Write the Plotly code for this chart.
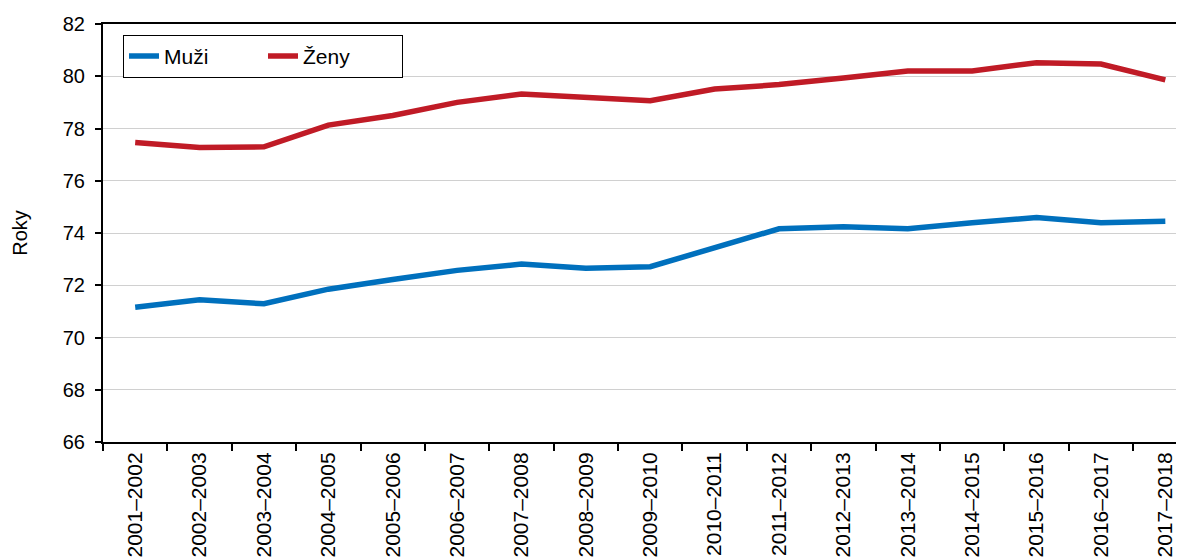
import plotly.graph_objects as go

categories = ["2001–2002", "2002–2003", "2003–2004", "2004–2005", "2005–2006",
              "2006–2007", "2007–2008", "2008–2009", "2009–2010", "2010–2011",
              "2011–2012", "2012–2013", "2013–2014", "2014–2015", "2015–2016",
              "2016–2017", "2017–2018"]
muzi = [71.16, 71.44, 71.29, 71.85, 72.22, 72.57, 72.81, 72.65, 72.71, 73.41,
        74.16, 74.24, 74.16, 74.39, 74.59, 74.39, 74.45]
zeny = [77.46, 77.27, 77.30, 78.13, 78.50, 79.00, 79.32, 79.19, 79.06, 79.51,
        79.68, 79.93, 80.20, 80.20, 80.52, 80.47, 79.86]
y_ticks = [66, 68, 70, 72, 74, 76, 78, 80, 82]

FONT = "Liberation Sans, Arial, sans-serif"

fig = go.Figure()
fig.add_trace(go.Scatter(x=categories, y=muzi, mode="lines", name="Muži",
                         line=dict(color="#0070bd", width=5.5)))
fig.add_trace(go.Scatter(x=categories, y=zeny, mode="lines", name="Ženy",
                         line=dict(color="#c01b26", width=5.5)))

fig.update_layout(
    width=1176, height=552,
    margin=dict(l=95, r=0, t=16, b=118),
    paper_bgcolor="white", plot_bgcolor="white",
    font=dict(family=FONT, size=20, color="black"),
    showlegend=True,
    legend=dict(
        orientation="h", x=0.0185, y=0.974, xanchor="left", yanchor="top",
        bordercolor="black", borderwidth=1, bgcolor="white",
        font=dict(family=FONT, size=21, color="black"),
        entrywidth=94, entrywidthmode="pixels", tracegroupgap=0,
    ),
    xaxis=dict(
        type="category", range=[-0.5, 16.29],
        showline=True, linecolor="black", linewidth=2, mirror=True,
        ticks="outside", ticklen=7, tickcolor="black", tickwidth=1.5,
        tickson="boundaries", tickangle=-90, showgrid=False,
        tickfont=dict(family=FONT, size=21), automargin=False,
    ),
    yaxis=dict(
        range=[66, 82], tickvals=y_ticks,
        showline=True, linecolor="black", linewidth=2,
        ticks="outside", ticklen=6, tickcolor="black", tickwidth=1.5,
        showgrid=True, gridcolor="#d0d0d0", gridwidth=1.3,
        zeroline=False, tickfont=dict(family=FONT, size=20),
        title=dict(text="Roky", font=dict(family=FONT, size=20), standoff=30),
        automargin=False, ticklabelstandoff=6,
    ),
)

fig.write_html("out.html")
